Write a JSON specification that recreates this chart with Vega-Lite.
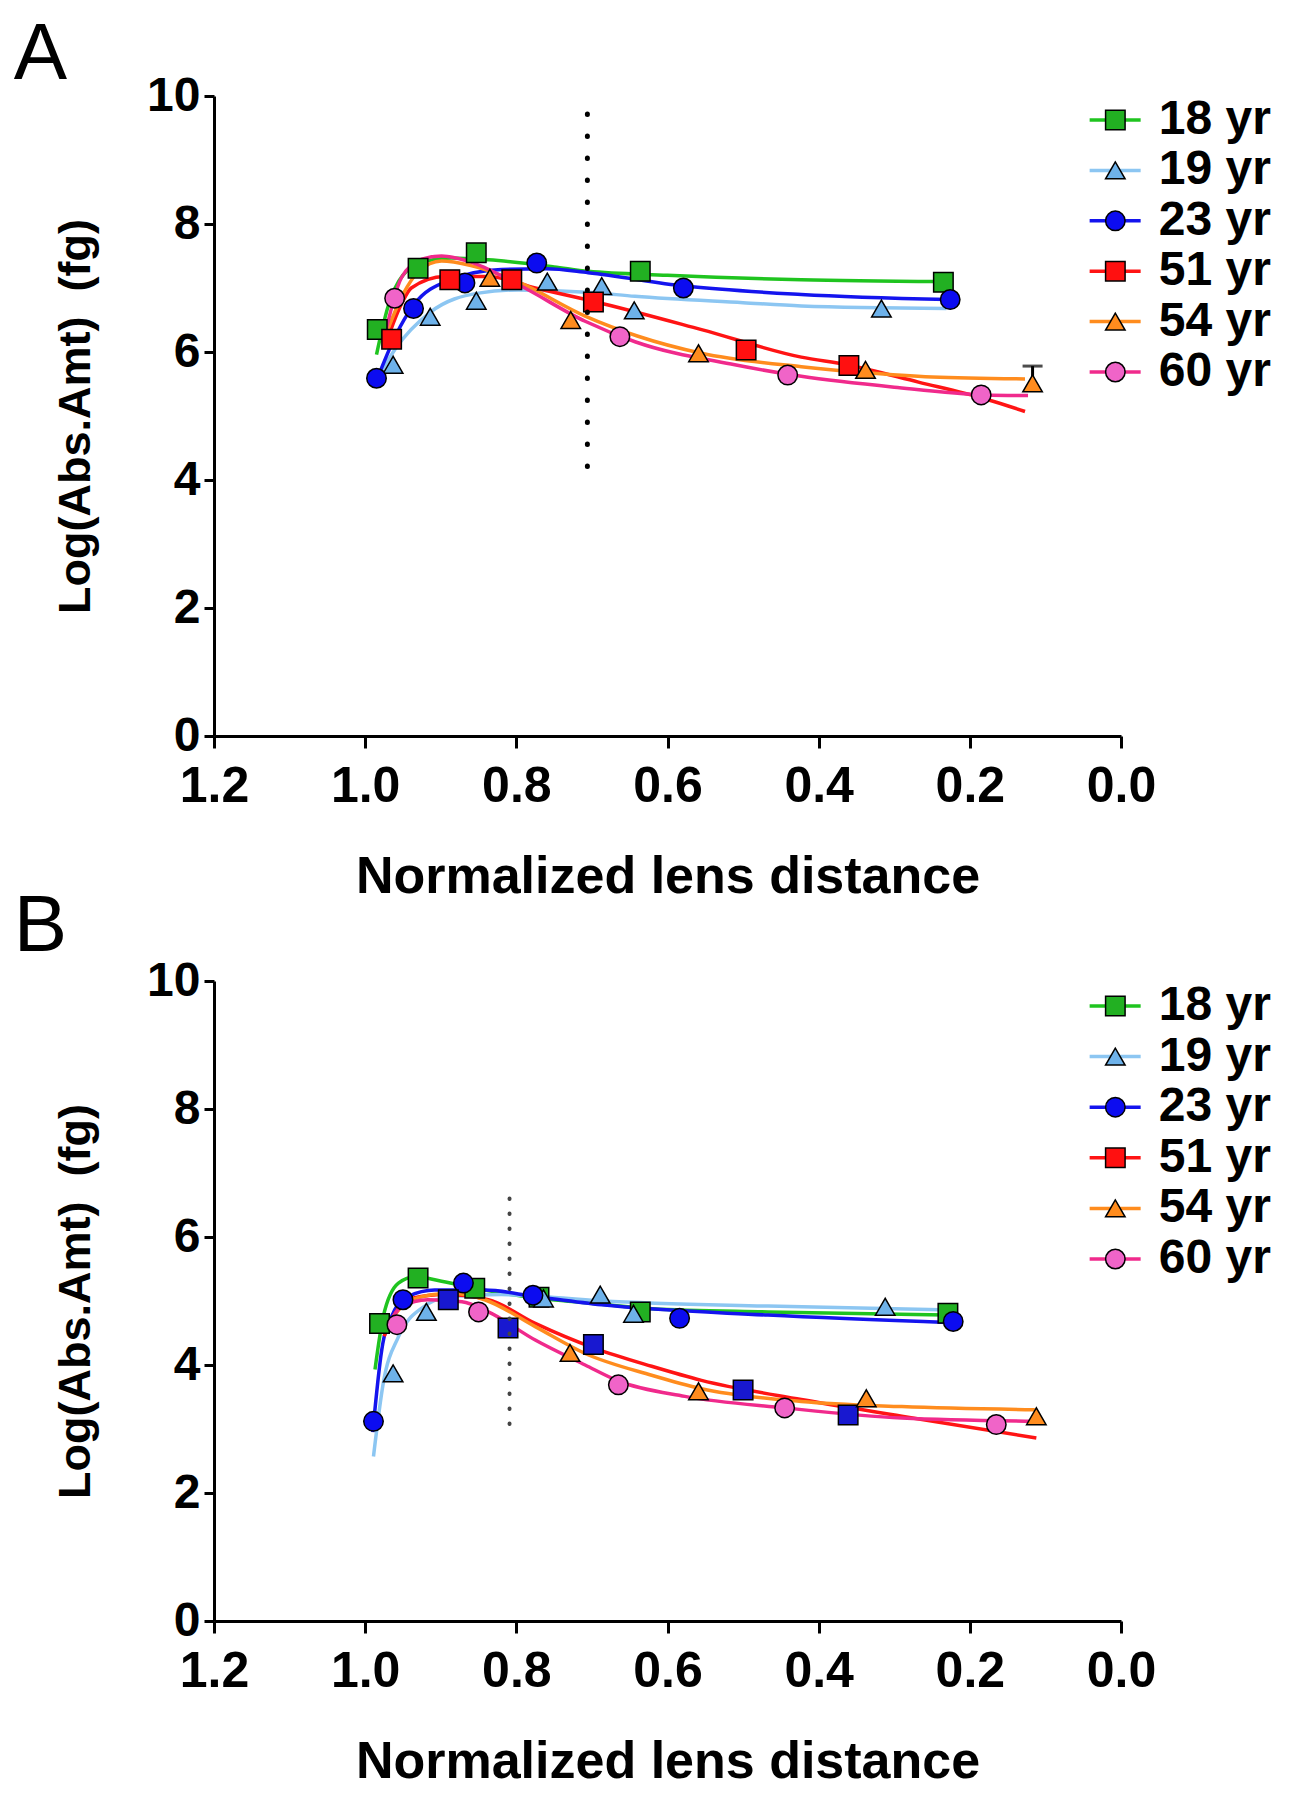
{
  "$schema": "https://vega.github.io/schema/vega-lite/v6.json",
  "background": "white",
  "padding": {"left": 13, "top": 15, "right": 4, "bottom": 4},
  "bounds": "flush",
  "spacing": 245,
  "config": {
    "font": "Liberation Sans",
    "view": {"stroke": null},
    "axis": {"grid": false, "domainColor": "black", "domainWidth": 3, "tickColor": "black", "tickWidth": 3, "labelFont": "Liberation Sans", "labelFontWeight": "bold", "labelColor": "black", "titleFont": "Liberation Sans", "titleColor": "black", "titleFontWeight": "bold"},
    "axisX": {"labelFontSize": 50, "tickSize": 12, "labelPadding": 13, "titleFontSize": 52, "titlePadding": 40, "labelFlush": false},
    "axisY": {"labelFontSize": 48, "tickSize": 10, "labelPadding": 4, "titleFontSize": 45, "titlePadding": 48}
  },
  "datasets": {
    "pts": [
      {"panel": "A", "series": "18 yr", "x": 0.984, "y": 6.35},
      {"panel": "A", "series": "18 yr", "x": 0.930, "y": 7.31},
      {"panel": "A", "series": "18 yr", "x": 0.853, "y": 7.55},
      {"panel": "A", "series": "18 yr", "x": 0.636, "y": 7.26},
      {"panel": "A", "series": "18 yr", "x": 0.235, "y": 7.09},
      {"panel": "A", "series": "19 yr", "x": 0.963, "y": 5.80},
      {"panel": "A", "series": "19 yr", "x": 0.914, "y": 6.55},
      {"panel": "A", "series": "19 yr", "x": 0.853, "y": 6.80},
      {"panel": "A", "series": "19 yr", "x": 0.759, "y": 7.10},
      {"panel": "A", "series": "19 yr", "x": 0.687, "y": 7.03},
      {"panel": "A", "series": "19 yr", "x": 0.644, "y": 6.65},
      {"panel": "A", "series": "19 yr", "x": 0.317, "y": 6.68},
      {"panel": "A", "series": "23 yr", "x": 0.985, "y": 5.59},
      {"panel": "A", "series": "23 yr", "x": 0.936, "y": 6.68},
      {"panel": "A", "series": "23 yr", "x": 0.868, "y": 7.08},
      {"panel": "A", "series": "23 yr", "x": 0.773, "y": 7.39},
      {"panel": "A", "series": "23 yr", "x": 0.579, "y": 7.00},
      {"panel": "A", "series": "23 yr", "x": 0.226, "y": 6.82},
      {"panel": "A", "series": "51 yr", "x": 0.965, "y": 6.20},
      {"panel": "A", "series": "51 yr", "x": 0.888, "y": 7.13},
      {"panel": "A", "series": "51 yr", "x": 0.806, "y": 7.13},
      {"panel": "A", "series": "51 yr", "x": 0.698, "y": 6.78},
      {"panel": "A", "series": "51 yr", "x": 0.496, "y": 6.03},
      {"panel": "A", "series": "51 yr", "x": 0.360, "y": 5.79},
      {"panel": "A", "series": "54 yr", "x": 0.835, "y": 7.16},
      {"panel": "A", "series": "54 yr", "x": 0.728, "y": 6.50},
      {"panel": "A", "series": "54 yr", "x": 0.559, "y": 5.98},
      {"panel": "A", "series": "54 yr", "x": 0.338, "y": 5.72},
      {"panel": "A", "series": "54 yr", "x": 0.117, "y": 5.51},
      {"panel": "A", "series": "60 yr", "x": 0.961, "y": 6.84},
      {"panel": "A", "series": "60 yr", "x": 0.663, "y": 6.24},
      {"panel": "A", "series": "60 yr", "x": 0.441, "y": 5.64},
      {"panel": "A", "series": "60 yr", "x": 0.185, "y": 5.33},
      {"panel": "B", "series": "18 yr", "x": 0.981, "y": 4.65},
      {"panel": "B", "series": "18 yr", "x": 0.930, "y": 5.36},
      {"panel": "B", "series": "18 yr", "x": 0.855, "y": 5.20},
      {"panel": "B", "series": "18 yr", "x": 0.770, "y": 5.06},
      {"panel": "B", "series": "18 yr", "x": 0.636, "y": 4.83},
      {"panel": "B", "series": "18 yr", "x": 0.229, "y": 4.81},
      {"panel": "B", "series": "19 yr", "x": 0.963, "y": 3.87},
      {"panel": "B", "series": "19 yr", "x": 0.919, "y": 4.83},
      {"panel": "B", "series": "19 yr", "x": 0.764, "y": 5.04},
      {"panel": "B", "series": "19 yr", "x": 0.689, "y": 5.10},
      {"panel": "B", "series": "19 yr", "x": 0.645, "y": 4.80},
      {"panel": "B", "series": "19 yr", "x": 0.312, "y": 4.91},
      {"panel": "B", "series": "23 yr", "x": 0.989, "y": 3.12},
      {"panel": "B", "series": "23 yr", "x": 0.950, "y": 5.02},
      {"panel": "B", "series": "23 yr", "x": 0.870, "y": 5.28},
      {"panel": "B", "series": "23 yr", "x": 0.778, "y": 5.09},
      {"panel": "B", "series": "23 yr", "x": 0.584, "y": 4.73},
      {"panel": "B", "series": "23 yr", "x": 0.222, "y": 4.68},
      {"panel": "B", "series": "51 yr", "x": 0.890, "y": 5.02},
      {"panel": "B", "series": "51 yr", "x": 0.811, "y": 4.58},
      {"panel": "B", "series": "51 yr", "x": 0.698, "y": 4.32},
      {"panel": "B", "series": "51 yr", "x": 0.500, "y": 3.61},
      {"panel": "B", "series": "51 yr", "x": 0.361, "y": 3.22},
      {"panel": "B", "series": "54 yr", "x": 0.729, "y": 4.19},
      {"panel": "B", "series": "54 yr", "x": 0.559, "y": 3.59},
      {"panel": "B", "series": "54 yr", "x": 0.337, "y": 3.48},
      {"panel": "B", "series": "54 yr", "x": 0.112, "y": 3.20},
      {"panel": "B", "series": "60 yr", "x": 0.958, "y": 4.63},
      {"panel": "B", "series": "60 yr", "x": 0.850, "y": 4.83},
      {"panel": "B", "series": "60 yr", "x": 0.665, "y": 3.69},
      {"panel": "B", "series": "60 yr", "x": 0.445, "y": 3.33},
      {"panel": "B", "series": "60 yr", "x": 0.165, "y": 3.07}
    ],
    "fits": [
      {"panel": "A", "series": "18 yr", "x": 0.985, "y": 5.96},
      {"panel": "A", "series": "18 yr", "x": 0.970, "y": 6.70},
      {"panel": "A", "series": "18 yr", "x": 0.950, "y": 7.20},
      {"panel": "A", "series": "18 yr", "x": 0.920, "y": 7.42},
      {"panel": "A", "series": "18 yr", "x": 0.886, "y": 7.47},
      {"panel": "A", "series": "18 yr", "x": 0.837, "y": 7.44},
      {"panel": "A", "series": "18 yr", "x": 0.750, "y": 7.33},
      {"panel": "A", "series": "18 yr", "x": 0.705, "y": 7.26},
      {"panel": "A", "series": "18 yr", "x": 0.600, "y": 7.20},
      {"panel": "A", "series": "18 yr", "x": 0.423, "y": 7.13},
      {"panel": "A", "series": "18 yr", "x": 0.238, "y": 7.10},
      {"panel": "A", "series": "19 yr", "x": 0.981, "y": 5.64},
      {"panel": "A", "series": "19 yr", "x": 0.960, "y": 6.05},
      {"panel": "A", "series": "19 yr", "x": 0.914, "y": 6.62},
      {"panel": "A", "series": "19 yr", "x": 0.850, "y": 6.92},
      {"panel": "A", "series": "19 yr", "x": 0.797, "y": 6.97},
      {"panel": "A", "series": "19 yr", "x": 0.700, "y": 6.93},
      {"panel": "A", "series": "19 yr", "x": 0.643, "y": 6.87},
      {"panel": "A", "series": "19 yr", "x": 0.500, "y": 6.77},
      {"panel": "A", "series": "19 yr", "x": 0.423, "y": 6.72},
      {"panel": "A", "series": "19 yr", "x": 0.231, "y": 6.68},
      {"panel": "A", "series": "23 yr", "x": 0.985, "y": 5.55},
      {"panel": "A", "series": "23 yr", "x": 0.960, "y": 6.25},
      {"panel": "A", "series": "23 yr", "x": 0.936, "y": 6.73},
      {"panel": "A", "series": "23 yr", "x": 0.886, "y": 7.13},
      {"panel": "A", "series": "23 yr", "x": 0.820, "y": 7.29},
      {"panel": "A", "series": "23 yr", "x": 0.760, "y": 7.30},
      {"panel": "A", "series": "23 yr", "x": 0.705, "y": 7.24},
      {"panel": "A", "series": "23 yr", "x": 0.577, "y": 7.03},
      {"panel": "A", "series": "23 yr", "x": 0.423, "y": 6.90},
      {"panel": "A", "series": "23 yr", "x": 0.229, "y": 6.82},
      {"panel": "A", "series": "51 yr", "x": 0.975, "y": 6.05},
      {"panel": "A", "series": "51 yr", "x": 0.952, "y": 6.75},
      {"panel": "A", "series": "51 yr", "x": 0.939, "y": 7.00},
      {"panel": "A", "series": "51 yr", "x": 0.895, "y": 7.18},
      {"panel": "A", "series": "51 yr", "x": 0.837, "y": 7.18},
      {"panel": "A", "series": "51 yr", "x": 0.775, "y": 7.00},
      {"panel": "A", "series": "51 yr", "x": 0.697, "y": 6.79},
      {"panel": "A", "series": "51 yr", "x": 0.555, "y": 6.35},
      {"panel": "A", "series": "51 yr", "x": 0.423, "y": 5.92},
      {"panel": "A", "series": "51 yr", "x": 0.363, "y": 5.80},
      {"panel": "A", "series": "51 yr", "x": 0.268, "y": 5.53},
      {"panel": "A", "series": "51 yr", "x": 0.180, "y": 5.27},
      {"panel": "A", "series": "51 yr", "x": 0.127, "y": 5.07},
      {"panel": "A", "series": "54 yr", "x": 0.975, "y": 6.20},
      {"panel": "A", "series": "54 yr", "x": 0.950, "y": 6.90},
      {"panel": "A", "series": "54 yr", "x": 0.930, "y": 7.25},
      {"panel": "A", "series": "54 yr", "x": 0.899, "y": 7.42},
      {"panel": "A", "series": "54 yr", "x": 0.860, "y": 7.35},
      {"panel": "A", "series": "54 yr", "x": 0.797, "y": 7.09},
      {"panel": "A", "series": "54 yr", "x": 0.709, "y": 6.56},
      {"panel": "A", "series": "54 yr", "x": 0.640, "y": 6.25},
      {"panel": "A", "series": "54 yr", "x": 0.555, "y": 5.98},
      {"panel": "A", "series": "54 yr", "x": 0.423, "y": 5.77},
      {"panel": "A", "series": "54 yr", "x": 0.341, "y": 5.68},
      {"panel": "A", "series": "54 yr", "x": 0.250, "y": 5.61},
      {"panel": "A", "series": "54 yr", "x": 0.127, "y": 5.58},
      {"panel": "A", "series": "60 yr", "x": 0.976, "y": 6.16},
      {"panel": "A", "series": "60 yr", "x": 0.952, "y": 7.16},
      {"panel": "A", "series": "60 yr", "x": 0.925, "y": 7.45},
      {"panel": "A", "series": "60 yr", "x": 0.899, "y": 7.50},
      {"panel": "A", "series": "60 yr", "x": 0.864, "y": 7.42},
      {"panel": "A", "series": "60 yr", "x": 0.797, "y": 7.05},
      {"panel": "A", "series": "60 yr", "x": 0.709, "y": 6.48},
      {"panel": "A", "series": "60 yr", "x": 0.643, "y": 6.16},
      {"panel": "A", "series": "60 yr", "x": 0.511, "y": 5.80},
      {"panel": "A", "series": "60 yr", "x": 0.423, "y": 5.62},
      {"panel": "A", "series": "60 yr", "x": 0.300, "y": 5.45},
      {"panel": "A", "series": "60 yr", "x": 0.180, "y": 5.33},
      {"panel": "A", "series": "60 yr", "x": 0.123, "y": 5.32},
      {"panel": "B", "series": "18 yr", "x": 0.987, "y": 3.93},
      {"panel": "B", "series": "18 yr", "x": 0.976, "y": 4.76},
      {"panel": "B", "series": "18 yr", "x": 0.956, "y": 5.28},
      {"panel": "B", "series": "18 yr", "x": 0.934, "y": 5.38},
      {"panel": "B", "series": "18 yr", "x": 0.899, "y": 5.31},
      {"panel": "B", "series": "18 yr", "x": 0.842, "y": 5.17},
      {"panel": "B", "series": "18 yr", "x": 0.775, "y": 5.05},
      {"panel": "B", "series": "18 yr", "x": 0.687, "y": 4.95},
      {"panel": "B", "series": "18 yr", "x": 0.620, "y": 4.88},
      {"panel": "B", "series": "18 yr", "x": 0.467, "y": 4.83},
      {"panel": "B", "series": "18 yr", "x": 0.229, "y": 4.78},
      {"panel": "B", "series": "19 yr", "x": 0.989, "y": 2.57},
      {"panel": "B", "series": "19 yr", "x": 0.976, "y": 3.72},
      {"panel": "B", "series": "19 yr", "x": 0.956, "y": 4.44},
      {"panel": "B", "series": "19 yr", "x": 0.925, "y": 4.89},
      {"panel": "B", "series": "19 yr", "x": 0.886, "y": 5.07},
      {"panel": "B", "series": "19 yr", "x": 0.820, "y": 5.10},
      {"panel": "B", "series": "19 yr", "x": 0.687, "y": 5.00},
      {"panel": "B", "series": "19 yr", "x": 0.467, "y": 4.92},
      {"panel": "B", "series": "19 yr", "x": 0.224, "y": 4.86},
      {"panel": "B", "series": "23 yr", "x": 0.990, "y": 2.95},
      {"panel": "B", "series": "23 yr", "x": 0.978, "y": 4.24},
      {"panel": "B", "series": "23 yr", "x": 0.963, "y": 4.81},
      {"panel": "B", "series": "23 yr", "x": 0.943, "y": 5.07},
      {"panel": "B", "series": "23 yr", "x": 0.908, "y": 5.17},
      {"panel": "B", "series": "23 yr", "x": 0.842, "y": 5.17},
      {"panel": "B", "series": "23 yr", "x": 0.775, "y": 5.07},
      {"panel": "B", "series": "23 yr", "x": 0.687, "y": 4.94},
      {"panel": "B", "series": "23 yr", "x": 0.467, "y": 4.78},
      {"panel": "B", "series": "23 yr", "x": 0.222, "y": 4.66},
      {"panel": "B", "series": "51 yr", "x": 0.975, "y": 4.45},
      {"panel": "B", "series": "51 yr", "x": 0.955, "y": 4.90},
      {"panel": "B", "series": "51 yr", "x": 0.939, "y": 5.04},
      {"panel": "B", "series": "51 yr", "x": 0.895, "y": 5.10},
      {"panel": "B", "series": "51 yr", "x": 0.837, "y": 5.02},
      {"panel": "B", "series": "51 yr", "x": 0.775, "y": 4.65},
      {"panel": "B", "series": "51 yr", "x": 0.696, "y": 4.26},
      {"panel": "B", "series": "51 yr", "x": 0.621, "y": 3.98},
      {"panel": "B", "series": "51 yr", "x": 0.555, "y": 3.76},
      {"panel": "B", "series": "51 yr", "x": 0.423, "y": 3.46},
      {"panel": "B", "series": "51 yr", "x": 0.290, "y": 3.20},
      {"panel": "B", "series": "51 yr", "x": 0.112, "y": 2.86},
      {"panel": "B", "series": "54 yr", "x": 0.974, "y": 4.55},
      {"panel": "B", "series": "54 yr", "x": 0.939, "y": 5.02},
      {"panel": "B", "series": "54 yr", "x": 0.886, "y": 5.12},
      {"panel": "B", "series": "54 yr", "x": 0.842, "y": 5.02},
      {"panel": "B", "series": "54 yr", "x": 0.775, "y": 4.60},
      {"panel": "B", "series": "54 yr", "x": 0.709, "y": 4.18},
      {"panel": "B", "series": "54 yr", "x": 0.621, "y": 3.84},
      {"panel": "B", "series": "54 yr", "x": 0.555, "y": 3.63},
      {"panel": "B", "series": "54 yr", "x": 0.423, "y": 3.43},
      {"panel": "B", "series": "54 yr", "x": 0.290, "y": 3.35},
      {"panel": "B", "series": "54 yr", "x": 0.114, "y": 3.30},
      {"panel": "B", "series": "60 yr", "x": 0.974, "y": 4.50},
      {"panel": "B", "series": "60 yr", "x": 0.952, "y": 4.91},
      {"panel": "B", "series": "60 yr", "x": 0.917, "y": 5.02},
      {"panel": "B", "series": "60 yr", "x": 0.872, "y": 4.99},
      {"panel": "B", "series": "60 yr", "x": 0.837, "y": 4.83},
      {"panel": "B", "series": "60 yr", "x": 0.775, "y": 4.39},
      {"panel": "B", "series": "60 yr", "x": 0.709, "y": 4.00},
      {"panel": "B", "series": "60 yr", "x": 0.665, "y": 3.75},
      {"panel": "B", "series": "60 yr", "x": 0.577, "y": 3.51},
      {"panel": "B", "series": "60 yr", "x": 0.445, "y": 3.33},
      {"panel": "B", "series": "60 yr", "x": 0.290, "y": 3.17},
      {"panel": "B", "series": "60 yr", "x": 0.114, "y": 3.12}
    ],
    "refs": [
      {"panel": "A", "x": 0.706, "y": 9.72, "y2": 4.12},
      {"panel": "B", "x": 0.809, "y": 6.60, "y2": 2.86}
    ],
    "err": [
      {"panel": "A", "series": "54 yr", "x": 0.117, "lo": 5.51, "hi": 5.78}
    ],
    "series": [
      {"series": "18 yr"}, {"series": "19 yr"}, {"series": "23 yr"},
      {"series": "51 yr"}, {"series": "54 yr"}, {"series": "60 yr"}
    ]
  },
  "vconcat": [
    {
      "width": 907,
      "height": 640,
      "resolve": {"scale": {"y": "independent"}},
      "layer": [
        {
          "layer": [
            {
              "data": {"name": "fits"},
              "transform": [{"filter": "datum.panel === 'A'"}],
              "mark": {"type": "line", "interpolate": "monotone", "strokeWidth": 3.5},
              "encoding": {
                "x": {"field": "x", "type": "quantitative", "scale": {"domain": [1.2, 0], "nice": false, "zero": false}, "title": "Normalized lens distance", "axis": {"values": [1.2, 1.0, 0.8, 0.6, 0.4, 0.2, 0.0], "format": ".1f"}},
                "y": {"field": "y", "type": "quantitative", "scale": {"domain": [0, 10], "nice": false}, "title": "Log(Abs.Amt)\u00a0\u00a0(fg)", "axis": {"values": [0, 2, 4, 6, 8, 10], "format": "d"}},
                "color": {"field": "series", "type": "nominal", "scale": {"domain": ["18 yr", "19 yr", "23 yr", "51 yr", "54 yr", "60 yr"], "range": ["#1fc41f", "#8cc6f2", "#1414ee", "#ff1414", "#ff8c1e", "#f02a8c"]}, "legend": null}
              }
            },
            {
              "data": {"name": "err"},
              "transform": [{"filter": "datum.panel === 'A'"}],
              "mark": {"type": "rule", "color": "black", "strokeWidth": 3},
              "encoding": {
                "x": {"field": "x", "type": "quantitative", "title": "Normalized lens distance"},
                "y": {"field": "lo", "type": "quantitative", "title": "Log(Abs.Amt)\u00a0\u00a0(fg)"},
                "y2": {"field": "hi"}
              }
            },
            {
              "data": {"name": "err"},
              "transform": [{"filter": "datum.panel === 'A'"}],
              "mark": {"type": "tick", "orient": "horizontal", "color": "black", "size": 20, "thickness": 3},
              "encoding": {
                "x": {"field": "x", "type": "quantitative", "title": "Normalized lens distance"},
                "y": {"field": "hi", "type": "quantitative", "title": "Log(Abs.Amt)\u00a0\u00a0(fg)"}
              }
            },
            {
              "data": {"name": "pts"},
              "transform": [{"filter": "datum.panel === 'A'"}],
              "mark": {"type": "point", "filled": true, "stroke": "black", "strokeWidth": 1.5, "size": 380, "opacity": 1},
              "encoding": {
                "x": {"field": "x", "type": "quantitative", "title": "Normalized lens distance"},
                "y": {"field": "y", "type": "quantitative", "title": "Log(Abs.Amt)\u00a0\u00a0(fg)"},
                "fill": {"field": "series", "type": "nominal", "scale": {"domain": ["18 yr", "19 yr", "23 yr", "51 yr", "54 yr", "60 yr"], "range": ["#22b022", "#6eb2ea", "#0c0cf0", "#ff1010", "#ff8c1e", "#f064c8"]}, "legend": null},
                "shape": {"field": "series", "type": "nominal", "scale": {"domain": ["18 yr", "19 yr", "23 yr", "51 yr", "54 yr", "60 yr"], "range": ["square", "triangle-up", "circle", "square", "triangle-up", "circle"]}, "legend": null}
              }
            },
            {
              "data": {"name": "refs"},
              "transform": [{"filter": "datum.panel === 'A'"}],
              "mark": {"type": "rule", "color": "black", "strokeWidth": 5, "strokeDash": [0.5, 21.5], "strokeCap": "round"},
              "encoding": {
                "x": {"field": "x", "type": "quantitative", "title": "Normalized lens distance"},
                "y": {"field": "y", "type": "quantitative", "title": "Log(Abs.Amt)\u00a0\u00a0(fg)"},
                "y2": {"field": "y2"}
              }
            },
            {
              "data": {"values": [{"label": "A"}]},
              "mark": {"type": "text", "align": "left", "baseline": "top", "fontSize": 80, "fontWeight": "normal", "font": "Liberation Sans", "color": "black"},
              "encoding": {
                "x": {"datum": 1.465, "type": "quantitative", "title": "Normalized lens distance"},
                "y": {"datum": 11.25, "type": "quantitative", "title": "Log(Abs.Amt)\u00a0\u00a0(fg)"},
                "text": {"field": "label"}
              }
            }
          ]
        },
        {
          "data": {"name": "series"},
          "layer": [
            {
              "mark": {"type": "rule", "strokeWidth": 3.5},
              "encoding": {
                "x": {"datum": 0.0415, "type": "quantitative", "title": "Normalized lens distance"},
                "x2": {"datum": -0.026},
                "y": {"field": "series", "type": "nominal", "scale": {"type": "point", "domain": ["18 yr", "19 yr", "23 yr", "51 yr", "54 yr", "60 yr"], "range": [24, 276], "padding": 0}, "axis": null},
                "color": {"field": "series", "type": "nominal", "legend": null}
              }
            },
            {
              "mark": {"type": "point", "filled": true, "stroke": "black", "strokeWidth": 1.5, "size": 380, "opacity": 1},
              "encoding": {
                "x": {"datum": 0.0075, "type": "quantitative", "title": "Normalized lens distance"},
                "y": {"field": "series", "type": "nominal", "axis": null},
                "fill": {"field": "series", "type": "nominal", "legend": null},
                "shape": {"field": "series", "type": "nominal", "legend": null}
              }
            },
            {
              "mark": {"type": "text", "align": "left", "baseline": "middle", "fontSize": 48, "fontWeight": "bold", "font": "Liberation Sans", "color": "black"},
              "encoding": {
                "x": {"datum": -0.05, "type": "quantitative", "title": "Normalized lens distance"},
                "y": {"field": "series", "type": "nominal", "axis": null},
                "text": {"field": "series"}
              }
            }
          ]
        }
      ]
    },
    {
      "width": 907,
      "height": 640,
      "resolve": {"scale": {"y": "independent"}},
      "layer": [
        {
          "layer": [
            {
              "data": {"name": "fits"},
              "transform": [{"filter": "datum.panel === 'B'"}],
              "mark": {"type": "line", "interpolate": "monotone", "strokeWidth": 3.5},
              "encoding": {
                "x": {"field": "x", "type": "quantitative", "scale": {"domain": [1.2, 0], "nice": false, "zero": false}, "title": "Normalized lens distance", "axis": {"values": [1.2, 1.0, 0.8, 0.6, 0.4, 0.2, 0.0], "format": ".1f"}},
                "y": {"field": "y", "type": "quantitative", "scale": {"domain": [0, 10], "nice": false}, "title": "Log(Abs.Amt)\u00a0\u00a0(fg)", "axis": {"values": [0, 2, 4, 6, 8, 10], "format": "d"}},
                "color": {"field": "series", "type": "nominal", "scale": {"domain": ["18 yr", "19 yr", "23 yr", "51 yr", "54 yr", "60 yr"], "range": ["#1fc41f", "#8cc6f2", "#1414ee", "#ff1414", "#ff8c1e", "#f02a8c"]}, "legend": null}
              }
            },
            {
              "data": {"name": "pts"},
              "transform": [{"filter": "datum.panel === 'B'"}],
              "mark": {"type": "point", "filled": true, "stroke": "black", "strokeWidth": 1.5, "size": 380, "opacity": 1},
              "encoding": {
                "x": {"field": "x", "type": "quantitative", "title": "Normalized lens distance"},
                "y": {"field": "y", "type": "quantitative", "title": "Log(Abs.Amt)\u00a0\u00a0(fg)"},
                "fill": {"field": "series", "type": "nominal", "scale": {"domain": ["18 yr", "19 yr", "23 yr", "51 yr", "54 yr", "60 yr"], "range": ["#22b022", "#6eb2ea", "#0c0cf0", "#ff1010", "#ff8c1e", "#f064c8"]}, "legend": null, "condition": {"test": "datum.series === '51 yr'", "value": "#1818d0"}},
                "shape": {"field": "series", "type": "nominal", "scale": {"domain": ["18 yr", "19 yr", "23 yr", "51 yr", "54 yr", "60 yr"], "range": ["square", "triangle-up", "circle", "square", "triangle-up", "circle"]}, "legend": null}
              }
            },
            {
              "data": {"name": "refs"},
              "transform": [{"filter": "datum.panel === 'B'"}],
              "mark": {"type": "rule", "color": "#444444", "strokeWidth": 4, "strokeDash": [0.5, 14.5], "strokeCap": "round"},
              "encoding": {
                "x": {"field": "x", "type": "quantitative", "title": "Normalized lens distance"},
                "y": {"field": "y", "type": "quantitative", "title": "Log(Abs.Amt)\u00a0\u00a0(fg)"},
                "y2": {"field": "y2"}
              }
            },
            {
              "data": {"values": [{"label": "B"}]},
              "mark": {"type": "text", "align": "left", "baseline": "top", "fontSize": 80, "fontWeight": "normal", "font": "Liberation Sans", "color": "black"},
              "encoding": {
                "x": {"datum": 1.465, "type": "quantitative", "title": "Normalized lens distance"},
                "y": {"datum": 11.45, "type": "quantitative", "title": "Log(Abs.Amt)\u00a0\u00a0(fg)"},
                "text": {"field": "label"}
              }
            }
          ]
        },
        {
          "data": {"name": "series"},
          "layer": [
            {
              "mark": {"type": "rule", "strokeWidth": 3.5},
              "encoding": {
                "x": {"datum": 0.0415, "type": "quantitative", "title": "Normalized lens distance"},
                "x2": {"datum": -0.026},
                "y": {"field": "series", "type": "nominal", "scale": {"type": "point", "domain": ["18 yr", "19 yr", "23 yr", "51 yr", "54 yr", "60 yr"], "range": [25, 278], "padding": 0}, "axis": null},
                "color": {"field": "series", "type": "nominal", "legend": null}
              }
            },
            {
              "mark": {"type": "point", "filled": true, "stroke": "black", "strokeWidth": 1.5, "size": 380, "opacity": 1},
              "encoding": {
                "x": {"datum": 0.0075, "type": "quantitative", "title": "Normalized lens distance"},
                "y": {"field": "series", "type": "nominal", "axis": null},
                "fill": {"field": "series", "type": "nominal", "legend": null},
                "shape": {"field": "series", "type": "nominal", "legend": null}
              }
            },
            {
              "mark": {"type": "text", "align": "left", "baseline": "middle", "fontSize": 48, "fontWeight": "bold", "font": "Liberation Sans", "color": "black"},
              "encoding": {
                "x": {"datum": -0.05, "type": "quantitative", "title": "Normalized lens distance"},
                "y": {"field": "series", "type": "nominal", "axis": null},
                "text": {"field": "series"}
              }
            }
          ]
        }
      ]
    }
  ]
}
